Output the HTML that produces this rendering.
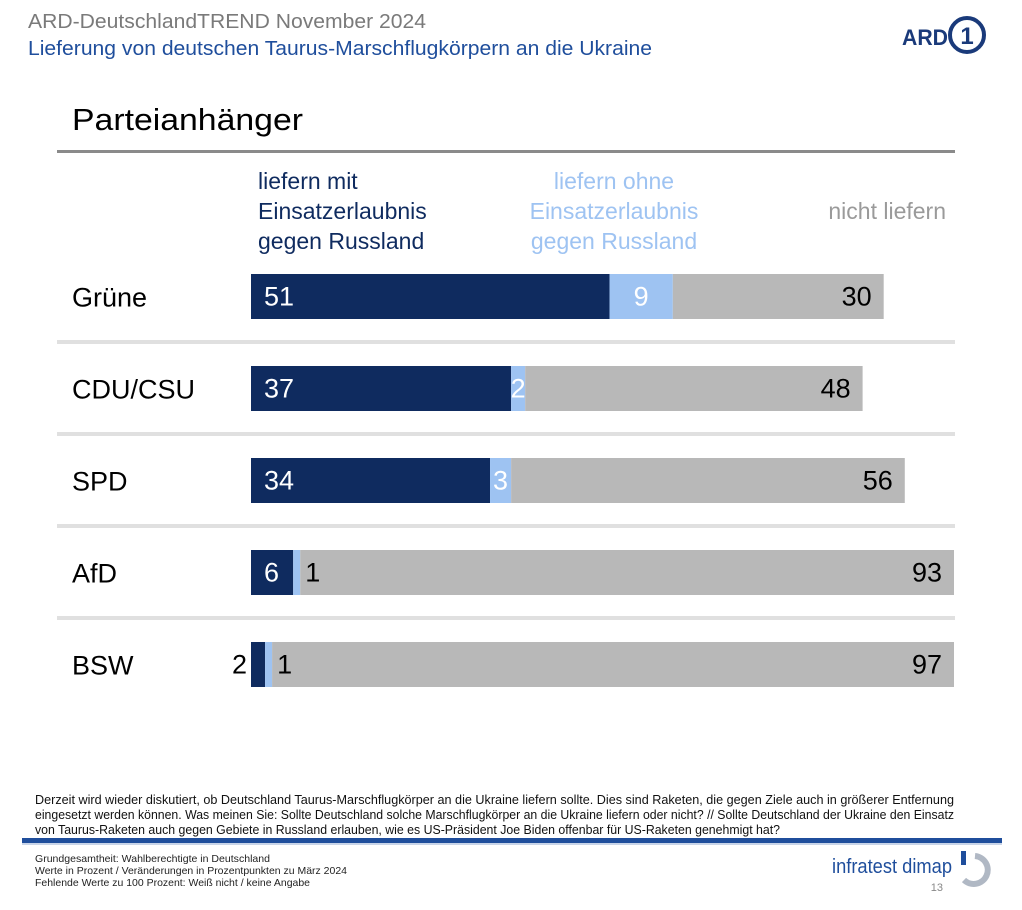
<!DOCTYPE html>
<html><head><meta charset="utf-8">
<style>
html,body{margin:0;padding:0;background:#fff;}
svg{display:block;font-family:"Liberation Sans",Arial,sans-serif;}
</style></head>
<body>
<svg id="chart" width="1022" height="910" viewBox="0 0 1022 910">
  <text x="28" y="28" font-size="20" fill="#7a7a7a" textLength="398" lengthAdjust="spacingAndGlyphs">ARD-DeutschlandTREND November 2024</text>
  <text x="28" y="55" font-size="20" fill="#1f4e9c" textLength="624" lengthAdjust="spacingAndGlyphs">Lieferung von deutschen Taurus-Marschflugkörpern an die Ukraine</text>
  <g>
    <text x="902" y="45" font-size="22" font-weight="bold" fill="#1a3a7a" textLength="46" lengthAdjust="spacingAndGlyphs">ARD</text>
    <circle cx="967" cy="35" r="17" fill="none" stroke="#1a3a7a" stroke-width="4"/>
    <text x="967" y="44" font-size="24" font-weight="bold" fill="#1a3a7a" text-anchor="middle">1</text>
  </g>
  <text x="72" y="130" font-size="31" fill="#000" textLength="231" lengthAdjust="spacingAndGlyphs">Parteianhänger</text>
  <rect x="57" y="150" width="898" height="3" fill="#8a8a8a"/>

  <g font-size="23">
    <g fill="#0f2b5f">
      <text x="258" y="189">liefern mit</text>
      <text x="258" y="219">Einsatzerlaubnis</text>
      <text x="258" y="249">gegen Russland</text>
    </g>
    <g fill="#9ec3f2" text-anchor="middle">
      <text x="614" y="189">liefern ohne</text>
      <text x="614" y="219">Einsatzerlaubnis</text>
      <text x="614" y="249">gegen Russland</text>
    </g>
    <text x="946" y="219" fill="#9a9a9a" text-anchor="end">nicht liefern</text>
  </g>

  <g id="bars"></g>

  <g font-size="12.5" fill="#111">
    <text x="35" y="804" textLength="919" lengthAdjust="spacingAndGlyphs">Derzeit wird wieder diskutiert, ob Deutschland Taurus-Marschflugkörper an die Ukraine liefern sollte. Dies sind Raketen, die gegen Ziele auch in größerer Entfernung</text>
    <text x="35" y="819" textLength="919" lengthAdjust="spacingAndGlyphs">eingesetzt werden können. Was meinen Sie: Sollte Deutschland solche Marschflugkörper an die Ukraine liefern oder nicht? // Sollte Deutschland der Ukraine den Einsatz</text>
    <text x="35" y="834" textLength="745" lengthAdjust="spacingAndGlyphs">von Taurus-Raketen auch gegen Gebiete in Russland erlauben, wie es US-Präsident Joe Biden offenbar für US-Raketen genehmigt hat?</text>
  </g>
  <rect x="22" y="838" width="980" height="5" fill="#1f4e9c"/>
  <rect x="22" y="843" width="980" height="2" fill="#c8d4e8"/>
  <g font-size="10.5" fill="#222">
    <text x="35" y="862" textLength="235" lengthAdjust="spacingAndGlyphs">Grundgesamtheit: Wahlberechtigte in Deutschland</text>
    <text x="35" y="874" textLength="312" lengthAdjust="spacingAndGlyphs">Werte in Prozent / Veränderungen in Prozentpunkten zu März 2024</text>
    <text x="35" y="886" textLength="275" lengthAdjust="spacingAndGlyphs">Fehlende Werte zu 100 Prozent: Weiß nicht / keine Angabe</text>
  </g>
  <g>
    <text x="832" y="873" font-size="20" fill="#1f4e9c" textLength="120" lengthAdjust="spacingAndGlyphs">infratest dimap</text>
    <path d="M975 856 A14 14 0 1 1 964 880" fill="none" stroke="#b0b8c4" stroke-width="6"/>
    <rect x="961" y="851" width="5" height="14" fill="#1f4e9c"/>
    <text x="943" y="891" font-size="11" fill="#888" text-anchor="end">13</text>
  </g>
</svg>
<script>
const parties = ["Grüne","CDU/CSU","SPD","AfD","BSW"];
const withPermission = [51,37,34,6,2];
const withoutPermission = [9,2,3,1,1];
const noDelivery = [30,48,56,93,97];

const svgNS = "http://www.w3.org/2000/svg";
const g = document.getElementById('bars');
const x0 = 251, scale = 7.03;
const xs = v => x0 + v * scale;
const rowTop = i => 274 + i * 92;
const barH = 45;
const fs = 27;
function mk(tag, attrs){const e=document.createElementNS(svgNS,tag);for(const k in attrs)e.setAttribute(k,attrs[k]);g.appendChild(e);return e;}
parties.forEach((p,i)=>{
  const y = rowTop(i), cy = y + barH/2 + 9;
  if(i>0){
    const sep = mk('rect',{x:57,y:y-26,width:898,height:4,fill:'#e0e0e0'});
    
    
  }
  const lab = mk('text',{x:72,y:cy+1,'font-size':fs,fill:'#000'});
  lab.textContent = p;
  
  
  const a = withPermission[i], b = withoutPermission[i], c = noDelivery[i];
  const r1 = mk('rect',{x:xs(0),y:y,width:xs(a)-xs(0),height:barH,fill:'#0f2b5f'});
  
  
  const r2 = mk('rect',{x:xs(a),y:y,width:xs(a+b)-xs(a),height:barH,fill:'#9ec3f2'});
  
  
  const r3 = mk('rect',{x:xs(a+b),y:y,width:xs(a+b+c)-xs(a+b),height:barH,fill:'#b8b8b8'});
  
  
  const w1 = xs(a)-xs(0), w2 = xs(a+b)-xs(a);
  const t1 = w1>30 ? mk('text',{x:xs(0)+13,y:cy,'font-size':fs,fill:'#fff'}) : mk('text',{x:xs(0)-4,y:cy,'font-size':fs,fill:'#000','text-anchor':'end'});
  t1.textContent = a;
  
  
  const t2 = w2>10 ? mk('text',{x:(xs(a)+xs(a+b))/2,y:cy,'font-size':fs,fill:'#fff','text-anchor':'middle'}) : mk('text',{x:xs(a+b)+5,y:cy,'font-size':fs,fill:'#000'});
  t2.textContent = b;
  
  
  const t3 = mk('text',{x:xs(a+b+c)-12,y:cy,'font-size':fs,fill:'#000','text-anchor':'end'});
  t3.textContent = c;
  
  
});
</script>
</body></html>
